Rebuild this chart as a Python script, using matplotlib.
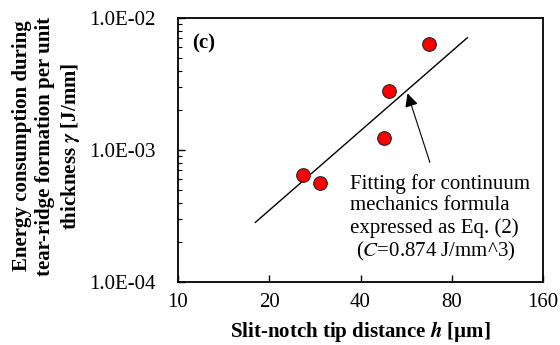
import matplotlib
matplotlib.use("Agg")
import matplotlib.pyplot as plt
from matplotlib.ticker import FixedLocator, NullFormatter, LogLocator

plt.rcParams['font.family'] = ['Liberation Serif', 'DejaVu Serif']
plt.rcParams['mathtext.fontset'] = 'stix'

# Data
h_um = [25.9, 29.4, 47.8, 49.8, 67.2]
gamma = [6.47e-4, 5.6e-4, 1.24e-3, 2.78e-3, 6.36e-3]

# Fit line endpoints (C = 0.874 J/mm^3)
fit_h = [18.0, 90.0]
fit_gamma = [2.83e-4, 7.08e-3]

x_ticks = [10, 20, 40, 80, 160]
x_tick_labels = ['10', '20', '40', '80', '160']
y_ticks = [1e-4, 1e-3, 1e-2]
y_tick_labels = ['1.0E-04', '1.0E-03', '1.0E-02']

FS = 15

fig = plt.figure(figsize=(5.6, 3.45), dpi=100)
ax = fig.add_axes([178/560, 1-282/345, (543-178)/560, (282-18)/345])

ax.set_xscale('log', base=2)
ax.set_yscale('log')
ax.set_xlim(10, 160)
ax.set_ylim(1e-4, 1e-2)

ax.plot(fit_h, fit_gamma, color='black', lw=1.0, zorder=2)
ax.plot(h_um, gamma, 'o', ms=9.8, mfc='#ff0000', mec='#222222', mew=0.8, zorder=3)

ax.xaxis.set_major_locator(FixedLocator(x_ticks))
ax.set_xticklabels(x_tick_labels)
ax.xaxis.set_minor_locator(FixedLocator([]))
ax.xaxis.set_minor_formatter(NullFormatter())
ax.yaxis.set_major_locator(FixedLocator(y_ticks))
ax.set_yticklabels(y_tick_labels)
ax.yaxis.set_minor_locator(LogLocator(base=10, subs=range(2, 10)))
ax.yaxis.set_minor_formatter(NullFormatter())

ax.tick_params(axis='both', which='both', direction='in', labelsize=FS,
               top=False, right=False, colors='black')
ax.tick_params(axis='x', which='major', length=5, width=1, pad=8)
ax.tick_params(axis='y', which='major', length=5, width=1, pad=16)
ax.tick_params(axis='y', which='minor', length=3, width=0.8)
for s in ax.spines.values():
    s.set_linewidth(1.3)

ax.text(0.04, 0.905, '(c)', transform=ax.transAxes, fontsize=FS,
        fontweight='bold', va='center', ha='left')

ax.annotate('', xy=(56.8, 2.81e-3), xytext=(68.2, 7.7e-4),
            arrowprops=dict(arrowstyle='-|>', color='black', lw=0.8,
                            mutation_scale=20))
ann_lines = ['Fitting for continuum', 'mechanics formula',
             'expressed as Eq. (2)', '($C$=0.874 J/mm^3)']
ann_x = [0.471, 0.471, 0.471, 0.487]
ann_y = [0.380, 0.298, 0.213, 0.128]
for t, xx, yy in zip(ann_lines, ann_x, ann_y):
    ax.text(xx, yy, t, transform=ax.transAxes, fontsize=FS,
            va='center_baseline', ha='left')

ax.set_xlabel('Slit-notch tip distance $\\boldsymbol{h}$ [µm]',
              fontsize=FS, fontweight='bold', labelpad=5)

fig.text(47/560, 1-146/345,
         'Energy consumption during\ntear-ridge formation per unit\nthickness $\\boldsymbol{\\gamma}$ [J/mm]',
         rotation=90, ha='center', va='center', fontsize=FS,
         fontweight='bold', multialignment='center', linespacing=1.2)

fig.savefig('out.png', dpi=100)
